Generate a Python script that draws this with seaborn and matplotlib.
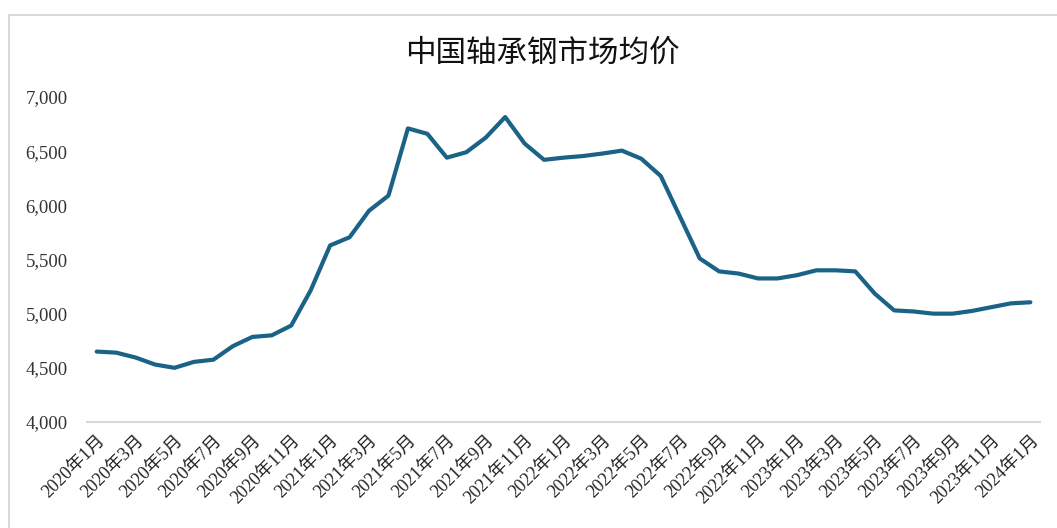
import matplotlib
matplotlib.use("Agg")
import matplotlib.pyplot as plt
import seaborn as sns
import pandas as pd
from matplotlib.lines import Line2D
from matplotlib.ticker import FuncFormatter

months = [f"{y}年{m}月" for y in (2020, 2021, 2022, 2023) for m in range(1, 13)] + ["2024年1月"]
prices = [
    4650, 4640, 4595, 4530, 4500, 4555, 4575, 4700, 4785, 4800, 4890, 5215,
    5630, 5705, 5950, 6090, 6710, 6660, 6440, 6490, 6625, 6815, 6570, 6420,
    6440, 6455, 6478, 6505, 6430, 6270, 5890, 5510, 5390, 5370, 5325, 5325,
    5355, 5400, 5400, 5390, 5185, 5030, 5020, 5000, 5000, 5025, 5060, 5095,
    5105,
]
title = "中国轴承钢市场均价"
y_ticks = [4000, 4500, 5000, 5500, 6000, 6500, 7000]

df = pd.DataFrame({"idx": range(len(months)), "month": months, "price": prices})

sns.set_theme(style="white")
plt.rcParams["font.family"] = ["Liberation Serif", "Noto Sans CJK SC", "DejaVu Sans"]

fig = plt.figure(figsize=(10.57, 5.28), dpi=100)
ax = fig.add_axes([0.0823, 0.2008, 0.9017, 0.6155])

sns.lineplot(data=df, x="idx", y="price", ax=ax, color="#1B6287", linewidth=3.0,
             solid_joinstyle="round", solid_capstyle="round")

ax.set_xlim(-0.5, len(months) - 0.5)
ax.set_ylim(4000, 7000)
ax.set_yticks(y_ticks)
ax.yaxis.set_major_formatter(FuncFormatter(lambda v, p: f"{int(v):,}"))
ax.set_xticks(list(range(0, len(months), 2)))
ax.set_xticklabels(months[::2], rotation=45, ha="right", rotation_mode="anchor")

ax.tick_params(axis="y", labelsize=13.5, length=0, pad=14, colors="#333333")
ax.tick_params(axis="x", labelsize=13, length=0, pad=7, colors="#222222")
ax.set_xlabel("")
ax.set_ylabel("")
for s in ("top", "right", "left"):
    ax.spines[s].set_visible(False)
ax.spines["bottom"].set_color("#d9d9d9")
ax.spines["bottom"].set_linewidth(1.5)
ax.grid(False)

fig.text(0.513, 0.9, title, ha="center", va="center", fontsize=22,
         family=["Noto Sans CJK SC", "DejaVu Sans"], color="#111111")

W, H = 1057, 528
fig.add_artist(Line2D([9 / W, 1.0], [1 - 15 / H, 1 - 15 / H], transform=fig.transFigure,
                      color="#d9d9d9", linewidth=1.5))
fig.add_artist(Line2D([9 / W, 9 / W], [0.0, 1 - 15 / H], transform=fig.transFigure,
                      color="#d9d9d9", linewidth=1.5))

fig.savefig("out.png", dpi=100)
